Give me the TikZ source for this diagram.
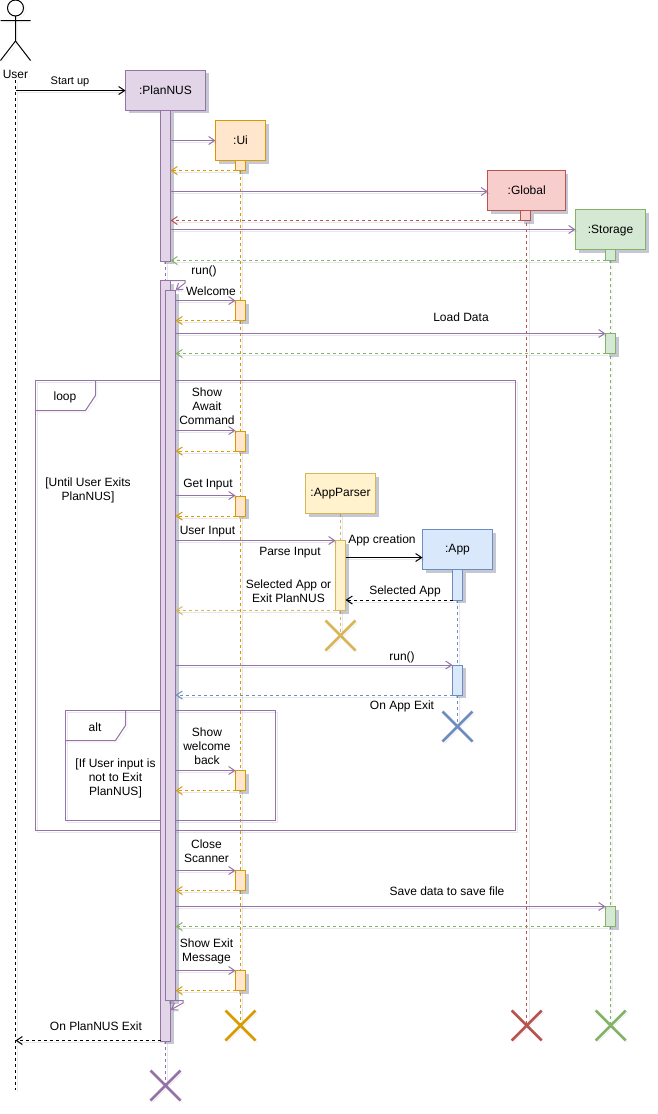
\documentclass[tikz,border=0pt]{standalone}
\usepackage{fontspec}
\setmainfont{Liberation Sans}
\usetikzlibrary{arrows.meta,shadows}
\pgfdeclarelayer{background}
\pgfsetlayers{background,main}
\definecolor{pf}{HTML}{E1D5E7}\definecolor{ps}{HTML}{9673A6}
\definecolor{of}{HTML}{FFE6CC}\definecolor{os}{HTML}{D79B00}
\definecolor{rf}{HTML}{F8CECC}\definecolor{rs}{HTML}{B85450}
\definecolor{gf}{HTML}{D5E8D4}\definecolor{gs}{HTML}{82B366}
\definecolor{yf}{HTML}{FFF2CC}\definecolor{ys}{HTML}{D6B656}
\definecolor{bf}{HTML}{DAE8FC}\definecolor{bs}{HTML}{6C8EBF}
\definecolor{shc}{HTML}{6F7390}
\tikzset{
  sh/.style={preaction={draw=shc,draw opacity=.16,transform canvas={shift={(2pt,-2pt)}}}},
  boxs/.style={rectangle,draw,line width=1pt,inner sep=0pt,outer sep=0pt,
    drop shadow={shadow xshift=3pt,shadow yshift=-3pt,fill=shc,opacity=.4},
    font=\fontsize{12}{14}\selectfont},
  pur/.style={draw=ps,fill=pf}, ora/.style={draw=os,fill=of},
  red/.style={draw=rs,fill=rf}, gre/.style={draw=gs,fill=gf},
  yel/.style={draw=ys,fill=yf}, blu/.style={draw=bs,fill=bf},
  msgl/.style={sh,line width=1pt,-{Straight Barb[length=6pt,width=8pt,line width=1pt]}},
  send/.style={msgl,draw=#1},
  back/.style={msgl,draw=#1,dash pattern=on 3pt off 3pt},
  life/.style={sh,draw=#1,line width=1pt,dash pattern=on 3pt off 3pt},
  xline/.style={sh,draw=#1,line width=2.6pt},
  xbox/.style={rectangle,minimum size=30pt,inner sep=0pt,outer sep=0pt},
  lab/.style={inner sep=0pt,align=center,yshift=-1pt,font=\fontsize{12}{14}\selectfont},
  frameline/.style={sh,draw=ps,line width=1pt,line join=miter},
  actor/.style={draw=black,line width=1pt}
}
\newcommand{\actbar}[5]{\node[boxs,#2,minimum width=10pt,minimum height={#5-#4}] (#1) at (#3,{(#4+#5)/2}) {};}
\newcommand{\xmark}[4]{\node[xbox] (#1) at (#3,#4) {};
  \draw[xline=#2] (#1.north west) -- (#1.south east);
  \draw[xline=#2] (#1.north east) -- (#1.south west);}
\newcommand{\msg}[4]{\draw[#1] (#2 |- 0,#4) -- (#3 |- 0,#4);}
\begin{document}
\begin{tikzpicture}[x=1pt,y=-1pt]
\begin{pgfonlayer}{background}
\fill[white] (0,0) rectangle (657,1114);
\end{pgfonlayer}
\useasboundingbox (0,0) rectangle (657,1114);

% actor
\draw[sh,actor,fill=white] (15.5,8) circle (8);
\draw[sh,actor] (15.5,16) -- (15.5,41) (0.5,20.5) -- (30.5,20.5) (0.5,60.5) -- (15.5,41) -- (30.5,60.5);
\node[lab] (user) at (15.5,73.5) {User};
\coordinate (ul) at (15.5,80);
\coordinate (ule) at (15.5,1090);

% heads
\node[boxs,pur,minimum width=80pt,minimum height=40pt] (plan) at (165.5,90) {:PlanNUS};
\node[boxs,ora,minimum width=50pt,minimum height=40pt] (ui) at (240.5,140.5) {:Ui};
\node[boxs,red,minimum width=77.5pt,minimum height=40pt] (global) at (526.7,190.5) {:Global};
\node[boxs,gre,minimum width=70pt,minimum height=40pt,text depth=1pt] (storage) at (610.5,229.5) {:Storage};
\node[boxs,yel,minimum width=70pt,minimum height=40pt] (parser) at (340.5,493.5) {:AppParser};
\node[boxs,blu,minimum width=70pt,minimum height=40pt] (app) at (457.5,549.5) {:App};

% activations
\actbar{pa}{pur}{165.5}{110}{261}
\actbar{pb}{pur}{165.5}{280.5}{1041}
\actbar{pc}{pur}{170.5}{290.5}{1000.5}
\actbar{u0}{ora}{240.5}{160.5}{170.5}
\actbar{u1}{ora}{240.5}{300.5}{320.5}
\actbar{u2}{ora}{240.5}{431}{451}
\actbar{u3}{ora}{240.5}{496}{516}
\actbar{u4}{ora}{240.5}{770.5}{790.5}
\actbar{u5}{ora}{240.5}{870.5}{890.5}
\actbar{u6}{ora}{240.5}{970.5}{990.5}
\actbar{g0}{red}{525.5}{210.5}{220.5}
\actbar{s0}{gre}{610.5}{249.5}{260}
\actbar{s1}{gre}{610.5}{333.5}{353.5}
\actbar{s2}{gre}{610.5}{906.5}{926.5}
\actbar{ap}{yel}{340.5}{540.5}{610.5}
\actbar{a0}{blu}{457.5}{569.5}{600}
\actbar{a1}{blu}{457.5}{665}{695}

% crosses
\xmark{xp}{ps}{165.5}{1085.5}
\xmark{xu}{os}{240.5}{1025.5}
\xmark{xg}{rs}{526.7}{1025.5}
\xmark{xs}{gs}{610.7}{1025.5}
\xmark{xy}{ys}{340.5}{635.5}
\xmark{xa}{bs}{457.5}{726.5}

\begin{pgfonlayer}{background}
  \draw[life=black] (ul) -- (ule);
  \draw[life=ps] (pa.south) -- (pb.north);
  \draw[life=ps] (pb.south) -- (xp.center);
  \draw[life=os] (u0.south) -- (xu.center);
  \draw[life=rs] (global.south) -- (xg.center);
  \draw[life=gs] (s0.south) -- (xs.center);
  \draw[life=ys] (parser.south) -- (ap.north);
  \draw[life=ys] (ap.south) -- (xy.center);
  \draw[life=bs] (a0.south) -- (a1.north);
  \draw[life=bs] (a1.south) -- (xa.center);
  % loop frame
  \coordinate (lf1) at (35.5,380.5);
  \coordinate (lf2) at (515.5,830.5);
  \draw[frameline] (lf1) rectangle (lf2);
  \draw[frameline] (95.5,380.5) -- (95.5,395.5) -- (85.5,410.5) -- (35.5,410.5);
  % alt frame
  \coordinate (af1) at (65.5,710.5);
  \coordinate (af2) at (275.5,820.5);
  \draw[frameline] (af1) rectangle (af2);
  \draw[frameline] (125.5,710.5) -- (125.5,725.5) -- (115.5,740.5) -- (65.5,740.5);
\end{pgfonlayer}

% messages
\msg{send=black}{ul}{plan.west}{90.5}
\msg{send=ps}{pa.east}{ui.west}{140.5}
\msg{back=os}{u0.west}{pa.east}{170.5}
\msg{send=ps}{pa.east}{global.west}{191.5}
\msg{back=rs}{g0.west}{pa.east}{220.5}
\msg{send=ps}{pa.east}{storage.west}{229.5}
\msg{back=gs}{s0.west}{pa.east}{260.5}
\draw[send=ps] (pb.north east) -- (185,280.5) -- (185,283) -- (pc.north east);
\msg{send=ps}{pc.east}{u1.west}{300.5}
\msg{back=os}{u1.west}{pc.east}{320.5}
\msg{send=ps}{pc.east}{s1.west}{333.5}
\msg{back=gs}{s1.west}{pc.east}{353.5}
\msg{send=ps}{pc.east}{u2.west}{430.5}
\msg{back=os}{u2.west}{pc.east}{451}
\msg{send=ps}{pc.east}{u3.west}{495.5}
\msg{back=os}{u3.west}{pc.east}{516}
\msg{send=ps}{pc.east}{ap.west}{540.5}
\msg{send=black}{ap.east}{app.west}{557.5}
\msg{back=black}{a0.west}{ap.east}{600}
\msg{back=ys}{ap.west}{pc.east}{610.5}
\msg{send=ps}{pc.east}{a1.west}{665}
\msg{back=bs}{a1.west}{pc.east}{695}
\msg{send=ps}{pc.east}{u4.west}{770.5}
\msg{back=os}{u4.west}{pc.east}{790.5}
\msg{send=ps}{pc.east}{u5.west}{870.5}
\msg{back=os}{u5.west}{pc.east}{890.5}
\msg{send=ps}{pc.east}{s2.west}{906.5}
\msg{back=gs}{s2.west}{pc.east}{926.5}
\msg{send=ps}{pc.east}{u6.west}{970.5}
\msg{back=os}{u6.west}{pc.east}{990.5}
\coordinate (ret) at (170.5,1010);
\draw[send=ps] (pc.south east) -- (183,1000.5) -- (183,1003) -- (ret);
\msg{back=black}{pb.west}{ul}{1040.5}

% labels
\node[lab,font=\fontsize{11}{13}\selectfont] (t1) at (70,81) {Start up};
\node[lab] (t2) at (204,270.5) {run()};
\node[lab] (t3) at (211,290) {Welcome};
\node[lab] (t4) at (461,316) {Load Data};
\node[lab] (t5) at (65,396) {loop};
\node[lab] (t6) at (88,489) {[Until User Exits\\PlanNUS]};
\node[lab] (t7) at (207,405) {Show\\Await\\Command};
\node[lab] (t8) at (208,484) {Get Input};
\node[lab] (t9) at (207.5,531) {User Input};
\node[lab] (t10) at (290,551.5) {Parse Input};
\node[lab] (t11) at (382,539.5) {App creation};
\node[lab] (t12) at (405,590.5) {Selected App};
\node[lab] (t13) at (288.5,590) {Selected App or\\Exit PlanNUS};
\node[lab] (t14) at (402,656) {run()};
\node[lab] (t15) at (402,705.5) {On App Exit};
\node[lab] (t16) at (95,726) {alt};
\node[lab] (t17) at (115.5,777.5) {[If User input is\\not to Exit\\PlanNUS]};
\node[lab] (t18) at (207,745) {Show\\welcome\\back};
\node[lab] (t19) at (206.5,850) {Close\\Scanner};
\node[lab] (t20) at (447,890.5) {Save data to save file};
\node[lab] (t21) at (206.5,950) {Show Exit\\Message};
\node[lab] (t22) at (96,1025.5) {On PlanNUS Exit};
\end{tikzpicture}
\end{document}
